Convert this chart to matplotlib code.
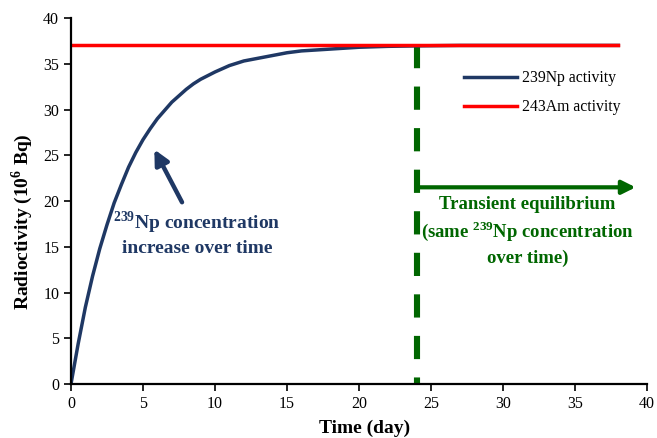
import matplotlib.pyplot as plt

plt.rcParams["font.family"] = ["Liberation Serif", "DejaVu Serif"]
plt.rcParams["mathtext.fontset"] = "custom"
plt.rcParams["mathtext.rm"] = "Liberation Serif"
plt.rcParams["mathtext.bf"] = "Liberation Serif:bold"

# 239Np build-up from 243Am decay
t_np = [0, 0.5, 1, 1.5, 2, 2.5, 3, 3.5, 4, 4.5, 5, 5.5, 6, 6.5, 7, 7.5, 8, 8.5, 9, 9.5, 10,
        11, 12, 13, 14, 15, 16, 17, 18, 19, 20, 22, 24, 27, 30, 34, 38]
a_np = [0, 4.4, 8.4, 11.8, 14.8, 17.4, 19.8, 21.8, 23.7, 25.3, 26.7, 27.9, 29.0, 29.9, 30.8,
        31.5, 32.2, 32.8, 33.3, 33.7, 34.1, 34.8, 35.3, 35.6, 35.9, 36.2, 36.4, 36.5, 36.6,
        36.7, 36.8, 36.9, 36.95, 37.0, 37.0, 37.0, 37.0]
# 243Am activity (constant)
t_am = [0, 38]
a_am = [37, 37]
t_eq = 24  # start of transient equilibrium

navy = "#1f3864"
green = "#006600"

fig = plt.figure(figsize=(6.57, 4.38), dpi=100)
ax = fig.add_axes([0.108, 0.123, 0.877, 0.836])

ax.plot(t_np, a_np, color=navy, lw=2.5, label="239Np activity")
ax.plot(t_am, a_am, color="#ff0000", lw=2.5, label="243Am activity")
ax.plot([t_eq, t_eq], [37, 0], color=green, lw=4.4, dashes=(3.8, 3.0), zorder=1)

ax.set_xlim(0, 40)
ax.set_ylim(0, 40)
ax.set_xticks(range(0, 41, 5))
ax.set_yticks(range(0, 41, 5))
for s in ["top", "right"]:
    ax.spines[s].set_visible(False)
for s in ["left", "bottom"]:
    ax.spines[s].set_linewidth(1.6)
ax.tick_params(direction="out", length=5, width=1.2, labelsize=11.5)

ax.set_xlabel("Time (day)", fontsize=14, fontweight="bold")
ax.set_ylabel("Radioctivity (10$^\\mathbf{6}$ Bq)", fontsize=14, fontweight="bold")
ax.xaxis.label.set_va("baseline")
ax.xaxis.set_label_coords(0.509, -0.133)
ax.yaxis.label.set_va("center")
ax.yaxis.set_label_coords(-0.084, 0.443)

ax.legend(loc="upper left", bbox_to_anchor=(0.672, 0.875), frameon=False, fontsize=11.3,
          handlelength=3.35, handletextpad=0.3, labelspacing=0.85, borderaxespad=0)

# build-up annotation
ax.annotate("", xy=(5.7, 25.9), xytext=(7.8, 19.6),
            arrowprops=dict(arrowstyle="-|>", color=navy, lw=3.2, mutation_scale=22))
blue_lines = [("$^{\\mathbf{239}}$Np concentration", 16.9), ("increase over time", 14.3)]
for s, y in blue_lines:
    ax.text(8.75, y, s, color=navy, fontsize=14, fontweight="bold", ha="center", va="baseline")

# equilibrium annotation
ax.annotate("", xy=(39.2, 21.5), xytext=(t_eq, 21.5),
            arrowprops=dict(arrowstyle="-|>", color=green, lw=3, mutation_scale=20,
                            shrinkA=0, shrinkB=0))
green_lines = [("Transient equilibrium", 19.1),
               ("(same $^{\\mathbf{239}}$Np concentration", 16.1),
               ("over time)", 13.2)]
for s, y in green_lines:
    ax.text(31.7, y, s, color=green, fontsize=13.5, fontweight="bold", ha="center", va="baseline")

fig.savefig("out.png", dpi=100)
